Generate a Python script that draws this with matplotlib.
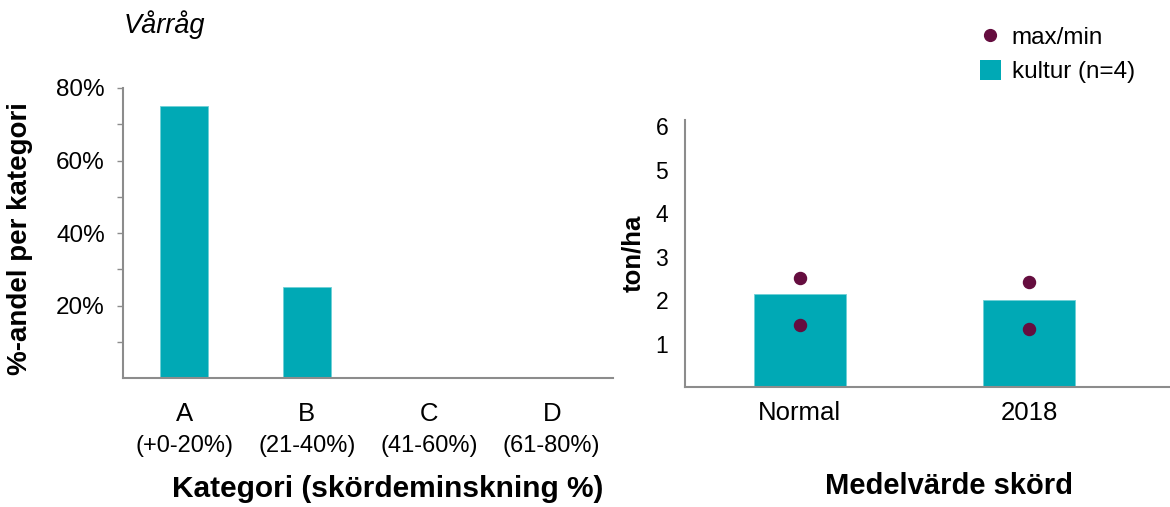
import matplotlib
matplotlib.use("Agg")
import matplotlib.pyplot as plt
from matplotlib.lines import Line2D
from matplotlib.patches import Patch
from matplotlib.ticker import FixedLocator, PercentFormatter

plt.rcParams['font.family'] = ['Liberation Sans', 'DejaVu Sans']

# left panel: share per category
categories = ["A", "B", "C", "D"]
ranges = ["(+0-20%)", "(21-40%)", "(41-60%)", "(61-80%)"]
share = [0.75, 0.25, 0.0, 0.0]

# right panel: mean yield with max/min
periods = ["Normal", "2018"]
mean_yield = [2.13, 1.99]
max_yield = [2.51, 2.41]
min_yield = [1.43, 1.33]

teal = "#00a9b5"
maroon = "#650d3f"
grey = "#8c8c8c"

fig = plt.figure(figsize=(11.7, 5.07), dpi=100)

## left chart
ax1 = fig.add_axes([123 / 1170, 1 - 378 / 507, 490 / 1170, 290 / 507])
x1 = list(range(len(categories)))
ax1.bar(x1, share, width=0.39, color=teal, edgecolor="#6fd0d6", linewidth=0.6)
ax1.set_xlim(-0.5, 3.5)
ax1.set_ylim(0, 0.8)
ax1.yaxis.set_major_locator(FixedLocator([0.2, 0.4, 0.6, 0.8]))
ax1.yaxis.set_minor_locator(FixedLocator([0.1, 0.3, 0.5, 0.7]))
ax1.yaxis.set_major_formatter(PercentFormatter(1.0, decimals=0))
ax1.tick_params(axis="y", which="both", length=4, width=1, color=grey,
                labelsize=17.5, pad=9)
ax1.set_xticks(x1)
ax1.set_xticklabels(categories)
ax1.tick_params(axis="x", length=0, labelsize=18.5, pad=17)
for i, r in enumerate(ranges):
    ax1.text(i, -0.235, r, transform=ax1.get_xaxis_transform(),
             ha="center", va="center", fontsize=17)
for s in ["top", "right"]:
    ax1.spines[s].set_visible(False)
for s in ["left", "bottom"]:
    ax1.spines[s].set_color(grey)
    ax1.spines[s].set_linewidth(1.5)
ax1.set_ylabel("%-andel per kategori", fontsize=20, fontweight="bold")
ax1.yaxis.set_label_coords(-0.184, 0.48)
ax1.set_xlabel("Kategori (skördeminskning %)", fontsize=21.5, fontweight="bold")
ax1.xaxis.set_label_coords(0.541, -0.335)

fig.text(124 / 1170, 1 - 33 / 507, "Vårråg", fontsize=19.5, style="italic",
         va="baseline", ha="left")

## right chart
ax2 = fig.add_axes([685 / 1170, 1 - 387 / 507, 485 / 1170, 267 / 507])
x2 = list(range(len(periods)))
ax2.bar(x2, mean_yield, width=0.4, color=teal, edgecolor="#6fd0d6",
        linewidth=0.6, zorder=2)
ax2.scatter(x2, max_yield, s=75, color=maroon, zorder=3)
ax2.scatter(x2, min_yield, s=75, color=maroon, zorder=3)
ax2.set_xlim(-0.5, 1.613)
ax2.set_ylim(0, 6.14)
ax2.set_yticks([1, 2, 3, 4, 5, 6])
ax2.tick_params(axis="y", length=0, labelsize=16.5, pad=12)
ax2.set_xticks(x2)
ax2.set_xticklabels(periods)
ax2.tick_params(axis="x", length=0, labelsize=18.5, pad=10)
for s in ["top", "right"]:
    ax2.spines[s].set_visible(False)
for s in ["left", "bottom"]:
    ax2.spines[s].set_color(grey)
    ax2.spines[s].set_linewidth(1.5)
ax2.set_ylabel("ton/ha", fontsize=18.5, fontweight="bold")
ax2.yaxis.set_label_coords(-0.082, 0.5)
ax2.set_xlabel("Medelvärde skörd", fontsize=21, fontweight="bold")
ax2.xaxis.set_label_coords(0.544, -0.32)

handles = [Line2D([], [], marker="o", linestyle="none", color=maroon, markersize=8.5),
           Patch(facecolor=teal)]
fig.legend(handles, ["max/min", "kultur (n=4)"], loc="upper left",
           bbox_to_anchor=(980 / 1170, 1 - 26 / 507), frameon=False,
           fontsize=17.5, handlelength=0.85, handleheight=0.9, handletextpad=0.45,
           labelspacing=0.42, borderpad=0, borderaxespad=0)

fig.savefig("out.png", dpi=100)
